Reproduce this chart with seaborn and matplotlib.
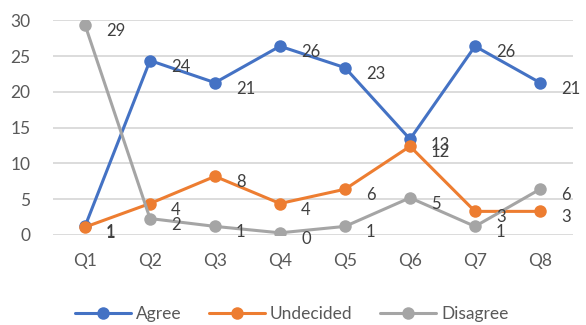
import matplotlib
matplotlib.use("Agg")
import matplotlib.pyplot as plt
import seaborn as sns
import pandas as pd

questions = ["Q1", "Q2", "Q3", "Q4", "Q5", "Q6", "Q7", "Q8"]
agree = [1.2, 24.4, 21.3, 26.4, 23.4, 13.4, 26.4, 21.3]
undecided = [1.1, 4.4, 8.2, 4.4, 6.4, 12.4, 3.3, 3.3]
disagree = [29.4, 2.3, 1.2, 0.3, 1.2, 5.2, 1.2, 6.4]
series_names = ["Agree", "Undecided", "Disagree"]
colors = ["#4472C4", "#ED7D31", "#A5A5A5"]

rows = []
for name, vals in zip(series_names, [agree, undecided, disagree]):
    for q, v in zip(questions, vals):
        rows.append({"Question": q, "Value": v, "Series": name})
df = pd.DataFrame(rows)

sns.set_theme(style="white")
plt.rcParams['font.family'] = ['Lato', 'DejaVu Sans']
text_color = "#595959"

fig = plt.figure(figsize=(5.86, 3.25), dpi=100)
ax = fig.add_axes([0.0896, 0.277, 0.8874, 0.66])

sns.lineplot(data=df, x="Question", y="Value", hue="Series", hue_order=series_names,
             palette=colors, marker="o", markersize=9, markeredgewidth=0,
             linewidth=2.2, ax=ax, sort=False, zorder=3)

for name, vals, c in zip(series_names, [agree, undecided, disagree], colors):
    for i, v in enumerate(vals):
        ax.annotate(f"{round(v):d}", (i, v), xytext=(21, -6), textcoords="offset pixels",
                    ha="left", va="center", fontsize=12, color="#404040", zorder=5)

ax.set_xlim(-0.5, 7.5)
ax.set_ylim(0, 30)
ax.set_yticks([0, 5, 10, 15, 20, 25, 30])
ax.yaxis.grid(True, color="#D9D9D9", linewidth=1.3)
ax.set_axisbelow(True)
for s in ax.spines.values():
    s.set_visible(False)
ax.set_xlabel("")
ax.set_ylabel("")
ax.tick_params(axis="both", length=0, labelsize=12.5, colors=text_color)
ax.tick_params(axis="x", pad=13)
ax.tick_params(axis="y", pad=16)

leg = ax.legend(loc="upper center", bbox_to_anchor=(0.46, -0.26), ncol=3, frameon=False,
                fontsize=12.5, handlelength=3.2, columnspacing=1.6, handletextpad=0.3)
for t in leg.get_texts():
    t.set_color(text_color)

fig.savefig("out.png", dpi=100)
